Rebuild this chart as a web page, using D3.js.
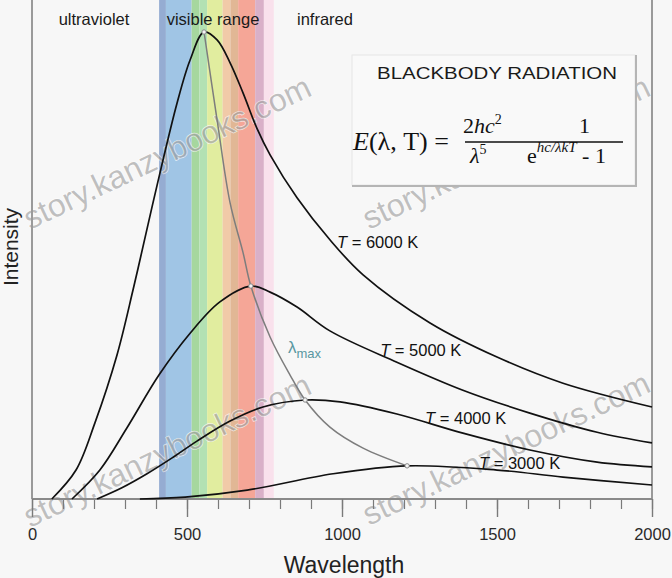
<!DOCTYPE html>
<html><head><meta charset="utf-8">
<script src="https://cdn.jsdelivr.net/npm/d3@7"></script>
<style>html,body{margin:0;padding:0;background:#f7f7f7;} svg{display:block;}</style>
</head><body><svg id="c" width="672" height="578"></svg>
<script>
// ---------- data ----------
const wavelengthTicks = [0, 500, 1000, 1500, 2000];
const minorTickStep = 100;
const regionLabels = ["ultraviolet", "visible range", "infrared"];
const temperatures = ["6000", "5000", "4000", "3000"];
// [wavelength nm, intensity (arb.)]
const curve6000 = [[64,0],[142,6.2],[203,16.3],[274,30.8],[326,44.8],[374,58.7],[406,67.9],[468,84.8],[510,94.0],[555,100],[597,98.3],[639,93.4],[681,86.9],[726,79.3],[768,73.7],[855,64.5],[961,55.5],[1068,48.0],[1284,37.7],[1500,30.4],[1713,24.8],[2000,19.7]];
const curve5000 = [[129,0],[219,6.2],[306,15.2],[410,26.6],[510,35.5],[606,42.2],[706,45.6],[768,44.3],[855,41.1],[961,36.0],[1177,29.3],[1390,23.3],[1606,18.4],[1823,14.3],[2000,12.0]];
const curve4000 = [[210,0],[290,2.4],[371,5.4],[452,8.8],[532,12.4],[639,16.7],[745,19.7],[881,21.2],[994,20.8],[1177,18.2],[1390,14.1],[1606,10.5],[1823,7.9],[2000,6.9]];
const curve3000 = [[348,0],[494,0.4],[694,1.9],[971,5.4],[1210,7.1],[1500,6.2],[1713,4.7],[2000,3.0]];
const lambdaMax = [[555,100],[597,81.2],[639,63.4],[681,52.7],[706,45.6],[768,34.7],[832,26.6],[881,21.2],[961,15.4],[1068,10.9],[1210,7.1]];
const peaks = [[555,100],[706,45.6],[881,21.2],[1210,7.1]];
const bandEdges = [410, 432, 515, 540, 565, 615, 640, 665, 720, 748, 780];
const bandColors = ["#95acd2","#a0c5e5","#a6d79e","#b3e1b3","#e1ed9f","#f1caa8","#e1b795","#f5a697","#d9b0c8","#f9e1ec"];
const labelAnchors = [[984,53.7],[1123,30.6],[1268,16.1],[1442,6.4]];

// ---------- layout ----------
const svg = d3.select("#c");
const W = 672, H = 578;
const x = d3.scaleLinear().domain([0, 2000]).range([32, 652]);
const y = d3.scaleLinear().domain([0, 100]).range([499, 32]);
const SANS = "'Liberation Sans', Arial, sans-serif";
const SERIF = "'Liberation Serif', 'Times New Roman', serif";

svg.append("rect").attr("width", W).attr("height", H).attr("fill", "#f7f7f7");

// spectrum bands
const bands = d3.range(bandColors.length).map(i => ({a: bandEdges[i], b: bandEdges[i+1], c: bandColors[i]}));
svg.append("g").selectAll("rect").data(bands).join("rect")
  .attr("x", d => x(d.a)).attr("width", d => x(d.b) - x(d.a))
  .attr("y", 0).attr("height", y(0))
  .attr("fill", d => d.c);

// watermarks
const wm = svg.append("g").attr("pointer-events", "none");
[[30,230],[369,230],[30,528],[369,526]].forEach(([px,py]) => {
  wm.append("text").attr("transform", `translate(${px},${py}) rotate(-25.5)`)
    .attr("font-family", SANS).attr("font-size", 32)
    .attr("fill", "#8d8d8d").attr("fill-opacity", 0.55)
    .attr("stroke", "#ffffff").attr("stroke-opacity", 0.7).attr("stroke-width", 1.2)
    .attr("paint-order", "stroke")
    .text("story.kanzybooks.com");
});

// frame
svg.append("line").attr("x1", x(0)).attr("x2", x(0)).attr("y1", 0).attr("y2", y(0))
  .attr("stroke", "#9a9a9a").attr("stroke-width", 2);
svg.append("line").attr("x1", x(2000)).attr("x2", x(2000)).attr("y1", 0).attr("y2", y(0))
  .attr("stroke", "#9a9a9a").attr("stroke-width", 2);

// axes
const minorAxis = d3.axisBottom(x).tickValues(d3.range(0, 2001, minorTickStep)).tickSize(10).tickFormat("");
const gMinor = svg.append("g").attr("transform", `translate(0,${y(0)})`).call(minorAxis);
gMinor.select(".domain").remove();
gMinor.selectAll("line").attr("stroke", "#7a7a7a").attr("stroke-width", 1.2);
const majorAxis = d3.axisBottom(x).tickValues(wavelengthTicks).tickSize(18).tickPadding(11).tickFormat(d3.format("d"));
const gMajor = svg.append("g").attr("transform", `translate(0,${y(0)})`).call(majorAxis);
gMajor.select(".domain").attr("stroke", "#8a8a8a").attr("stroke-width", 2).attr("d", `M${x(0)},0H${x(2000)}`);
gMajor.selectAll("line").attr("stroke", "#7a7a7a").attr("stroke-width", 1.4);
gMajor.selectAll("text").attr("font-family", SANS).attr("font-size", 16.5).attr("fill", "#2a2a2a");

// axis titles
svg.append("text").attr("x", 344).attr("y", 573).attr("text-anchor", "middle")
  .attr("font-family", SANS).attr("font-size", 23).attr("fill", "#222").text("Wavelength");
svg.append("text").attr("transform", "translate(18,247) rotate(-90)").attr("text-anchor", "middle")
  .attr("font-family", SANS).attr("font-size", 21).attr("fill", "#222").text("Intensity");

// region labels
const regionPos = [[94, "middle"], [213, "middle"], [297, "start"]];
regionLabels.forEach((t, i) => {
  svg.append("text").attr("x", regionPos[i][0]).attr("y", 25).attr("text-anchor", regionPos[i][1])
    .attr("font-family", SANS).attr("font-size", 16.5).attr("fill", "#1a1a1a").text(t);
});

// formula box
const box = svg.append("g");
box.append("rect").attr("x", 352).attr("y", 55).attr("width", 283).attr("height", 130)
  .attr("fill", "#f9f9f9").attr("stroke", "#e6e6e6").attr("stroke-width", 1);
box.append("path").attr("d", "M352,186H636V55").attr("fill", "none").attr("stroke", "#b5b5b5").attr("stroke-width", 2);
box.append("text").attr("x", 497).attr("y", 79).attr("text-anchor", "middle")
  .attr("font-family", SANS).attr("font-size", 17).attr("fill", "#1a1a1a")
  .attr("textLength", 240).attr("lengthAdjust", "spacingAndGlyphs").text("BLACKBODY RADIATION");
const f1 = box.append("text").attr("x", 353).attr("y", 150).attr("font-family", SERIF).attr("font-size", 26).attr("fill", "#111");
f1.append("tspan").attr("font-style", "italic").text("E");
f1.append("tspan").text("(λ, T) =");
const num = box.append("text").attr("x", 463).attr("y", 133).attr("font-family", SERIF).attr("font-size", 22).attr("fill", "#111");
num.append("tspan").text("2");
num.append("tspan").attr("font-style", "italic").text("hc");
num.append("tspan").attr("font-size", 14).attr("dy", -9).text("2");
box.append("text").attr("x", 579).attr("y", 133).attr("font-family", SERIF).attr("font-size", 22).attr("fill", "#111").text("1");
box.append("line").attr("x1", 465).attr("x2", 623).attr("y1", 142).attr("y2", 142).attr("stroke", "#111").attr("stroke-width", 1.4);
const den1 = box.append("text").attr("x", 470).attr("y", 163).attr("font-family", SERIF).attr("font-size", 22).attr("fill", "#111");
den1.append("tspan").attr("font-style", "italic").text("λ");
den1.append("tspan").attr("font-size", 14).attr("dy", -9).text("5");
const den2 = box.append("text").attr("x", 527).attr("y", 163).attr("font-family", SERIF).attr("font-size", 22).attr("fill", "#111");
den2.append("tspan").text("e");
den2.append("tspan").attr("font-size", 15).attr("font-style", "italic").attr("dy", -11).text("hc/λkT");
den2.append("tspan").attr("dy", 11).text(" - 1");

// curves
const line = d3.line().x(d => x(d[0])).y(d => y(d[1])).curve(d3.curveCatmullRom.alpha(0.5));
svg.append("path").datum(lambdaMax).attr("d", line).attr("fill", "none")
  .attr("stroke", "#7d7d7d").attr("stroke-width", 1.5);
[curve6000, curve5000, curve4000, curve3000].forEach(c => {
  svg.append("path").datum(c).attr("d", line).attr("fill", "none")
    .attr("stroke", "#111").attr("stroke-width", 1.7);
});
svg.append("g").selectAll("circle").data(peaks).join("circle")
  .attr("cx", d => x(d[0])).attr("cy", d => y(d[1])).attr("r", 2.2)
  .attr("fill", "#f4f4f4").attr("stroke", "#888").attr("stroke-width", 1);

// temperature labels
temperatures.forEach((t, i) => {
  const tx = svg.append("text").attr("x", x(labelAnchors[i][0])).attr("y", y(labelAnchors[i][1]))
    .attr("font-family", SANS).attr("font-size", 16.5).attr("fill", "#111");
  tx.append("tspan").attr("font-style", "italic").text("T");
  tx.append("tspan").text(` = ${t} K`);
});

// lambda max label
const lm = svg.append("text").attr("x", 288).attr("y", 353).attr("font-family", SANS).attr("fill", "#5a97a2");
lm.append("tspan").attr("font-size", 17).text("λ");
lm.append("tspan").attr("font-size", 13).attr("dy", 5).text("max");
</script></body></html>
